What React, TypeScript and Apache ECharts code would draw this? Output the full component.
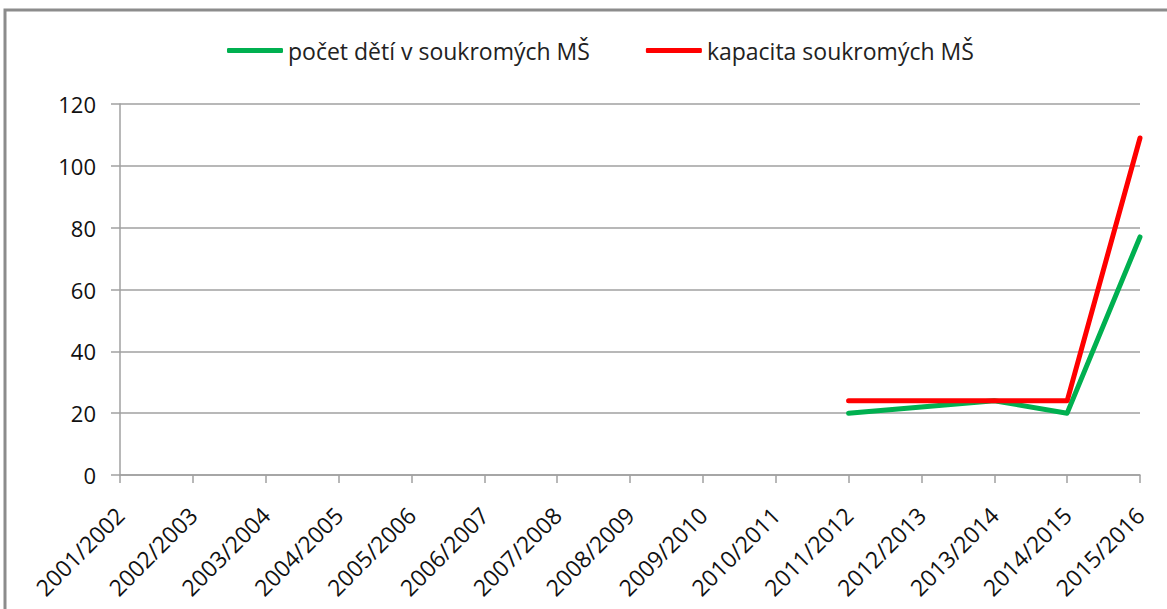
import React, { useEffect, useRef } from "react";
import * as echarts from "echarts";

const categories = [
  "2001/2002", "2002/2003", "2003/2004", "2004/2005", "2005/2006",
  "2006/2007", "2007/2008", "2008/2009", "2009/2010", "2010/2011",
  "2011/2012", "2012/2013", "2013/2014", "2014/2015", "2015/2016",
];
const childrenCount = [null, null, null, null, null, null, null, null, null, null, 20, 22, 24, 20, 77];
const capacity = [null, null, null, null, null, null, null, null, null, null, 24, 24, 24, 24, 109];
const seriesNames = ["počet dětí v soukromých MŠ", "kapacita soukromých MŠ"];
const yTicks = { min: 0, max: 120, interval: 20 };

const FONT = "'Open Sans', 'Noto Sans', sans-serif";

export default function App() {
  const ref = useRef<HTMLDivElement>(null);
  useEffect(() => {
    if (!ref.current) return;
    const chart = echarts.init(ref.current, null, { renderer: "svg" });
    chart.setOption({
      animation: false,
      backgroundColor: "#ffffff",
      textStyle: { fontFamily: FONT },
      graphic: [
        {
          type: "rect",
          shape: { x: 5, y: 10, width: 1200, height: 700 },
          style: { fill: "none", stroke: "#8c8c8c", lineWidth: 3 },
          silent: true,
        },
      ],
      legend: {
        top: 34,
        left: 222,
        itemWidth: 56,
        itemHeight: 5,
        itemGap: 56,
        icon: "roundRect",
        textStyle: { fontFamily: FONT, fontSize: 23, color: "#222" },
        data: seriesNames,
      },
      grid: { left: 120, right: 27, top: 104, bottom: 134, containLabel: false },
      xAxis: {
        type: "category",
        data: categories,
        boundaryGap: false,
        axisLine: { lineStyle: { color: "#a0a0a0", width: 1.5 } },
        axisTick: { show: true, length: 8, lineStyle: { color: "#a0a0a0", width: 1.5 } },
        axisLabel: {
          interval: 0,
          rotate: 45,
          margin: 36,
          fontFamily: FONT,
          fontSize: 23,
          color: "#111",
        },
        splitLine: { show: false },
      },
      yAxis: {
        type: "value",
        min: yTicks.min,
        max: yTicks.max,
        interval: yTicks.interval,
        axisLine: { show: true, lineStyle: { color: "#a0a0a0", width: 1.5 } },
        axisTick: { show: true, length: 9, lineStyle: { color: "#a0a0a0", width: 1.5 } },
        axisLabel: { margin: 24, fontFamily: FONT, fontSize: 22, color: "#111" },
        splitLine: { show: true, lineStyle: { color: "#a0a0a0", width: 1.5 } },
      },
      series: [
        {
          name: seriesNames[0],
          type: "line",
          data: childrenCount,
          symbol: "none",
          itemStyle: { color: "#00b050" },
          lineStyle: { color: "#00b050", width: 5, cap: "round", join: "round" },
        },
        {
          name: seriesNames[1],
          type: "line",
          data: capacity,
          symbol: "none",
          itemStyle: { color: "#ff0000" },
          lineStyle: { color: "#ff0000", width: 5, cap: "round", join: "round" },
        },
      ],
    });
    return () => chart.dispose();
  }, []);
  return (
    <div
      ref={ref}
      style={{ position: "fixed", left: 0, top: 0, width: 1167, height: 609 }}
    />
  );
}
